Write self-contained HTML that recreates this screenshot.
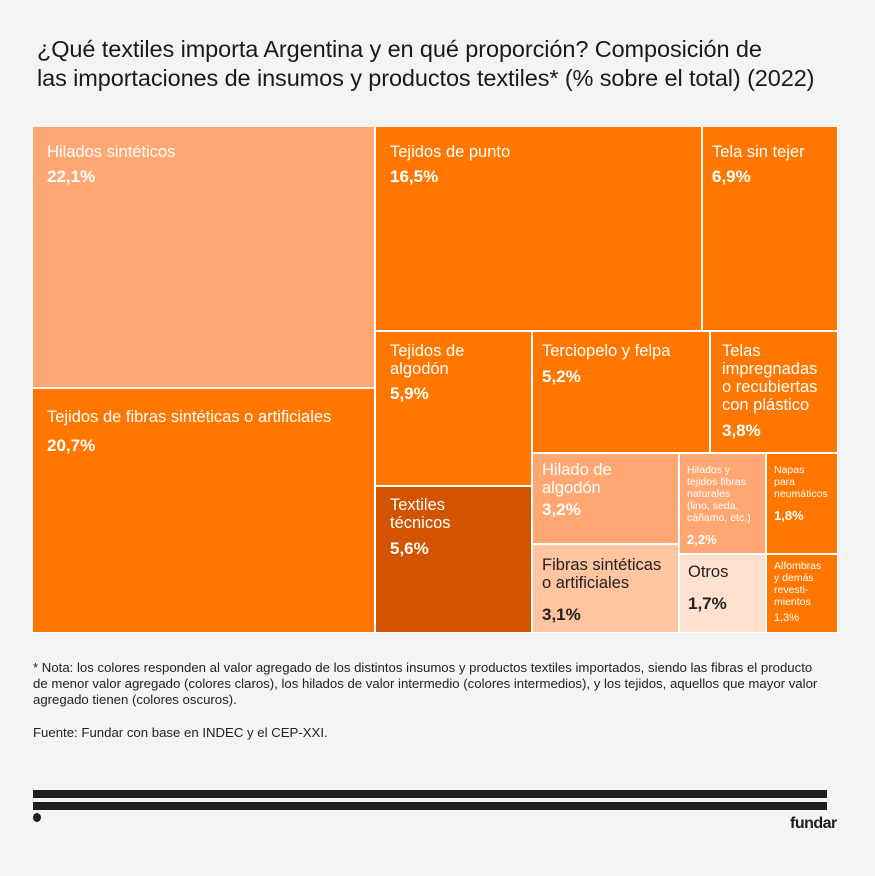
<!DOCTYPE html>
<html><head><meta charset="utf-8"><style>
body{margin:0;width:875px;height:876px;background:#f4f4f4;font-family:"Liberation Sans",sans-serif;position:relative;overflow:hidden}
.t{position:absolute;left:37px;top:35px;font-size:23.5px;line-height:29px;color:#1a1a1a;letter-spacing:-0.1px}
.b{position:absolute;box-sizing:border-box;color:#fff;padding:0;}
.b .l{position:absolute;left:14px;top:16px;font-size:16.5px;line-height:18px}
.b .v{position:absolute;left:14px;font-size:17px;font-weight:bold}
.d{color:#222!important}
.s .l{font-size:10.5px;line-height:12px;left:7px;top:10px}
.s .v{font-size:13px;left:7px}
.n{position:absolute;left:33px;font-size:13.2px;line-height:16px;color:#222}
.bar{position:absolute;left:33px;width:794px;height:8px;background:#1e1e1e}
</style></head><body>
<div class="t">¿Qué textiles importa Argentina y en qué proporción? Composición de<br>las importaciones de insumos y productos textiles* (% sobre el total) (2022)</div>
<div style="position:absolute;left:33px;top:127px;width:805px;height:506px;background:#fff"></div>
<div class="b" style="left:33px;top:127px;width:341px;height:260px;background:#ffa772"><div class="l" style="top:16px">Hilados sintéticos</div><div class="v" style="top:40px">22,1%</div></div>
<div class="b" style="left:33px;top:389px;width:341px;height:243px;background:#ff7700"><div class="l" style="top:19px">Tejidos de fibras sintéticas o artificiales</div><div class="v" style="top:47px">20,7%</div></div>
<div class="b" style="left:376px;top:127px;width:325px;height:203px;background:#ff7700"><div class="l">Tejidos de punto</div><div class="v" style="top:40px">16,5%</div></div>
<div class="b" style="left:703px;top:127px;width:134px;height:203px;background:#ff7700"><div class="l" style="left:9px">Tela sin tejer</div><div class="v" style="left:9px;top:40px">6,9%</div></div>
<div class="b" style="left:376px;top:332px;width:155px;height:153px;background:#ff7700"><div class="l" style="top:10px">Tejidos de<br>algodón</div><div class="v" style="top:52px">5,9%</div></div>
<div class="b" style="left:376px;top:487px;width:155px;height:145px;background:#d35400"><div class="l" style="top:9px">Textiles<br>técnicos</div><div class="v" style="top:52px">5,6%</div></div>
<div class="b" style="left:533px;top:332px;width:176px;height:120px;background:#ff7700"><div class="l" style="left:9px;top:10px">Terciopelo y felpa</div><div class="v" style="left:9px;top:35px">5,2%</div></div>
<div class="b" style="left:711px;top:332px;width:126px;height:120px;background:#ff7700"><div class="l" style="left:11px;top:10px">Telas<br>impregnadas<br>o recubiertas<br>con plástico</div><div class="v" style="left:11px;top:89px">3,8%</div></div>
<div class="b" style="left:533px;top:454px;width:145px;height:89px;background:#ffa772"><div class="l" style="left:9px;top:7px">Hilado de<br>algodón</div><div class="v" style="left:9px;top:46px">3,2%</div></div>
<div class="b d" style="left:533px;top:545px;width:145px;height:87px;background:#ffc4a0"><div class="l" style="left:9px;top:11px">Fibras sintéticas<br>o artificiales</div><div class="v" style="left:9px;top:60px">3,1%</div></div>
<div class="b s" style="left:680px;top:454px;width:85px;height:99px;background:#ffa772"><div class="l">Hilados y<br>tejidos fibras<br>naturales<br>(lino, seda,<br>cáñamo, etc.)</div><div class="v" style="top:78px">2,2%</div></div>
<div class="b d" style="left:680px;top:555px;width:85px;height:77px;background:#ffe1d0"><div class="l" style="left:8px;top:8px">Otros</div><div class="v" style="left:8px;top:39px">1,7%</div></div>
<div class="b s" style="left:767px;top:454px;width:70px;height:99px;background:#ff7700"><div class="l">Napas<br>para<br>neumáticos</div><div class="v" style="top:54px">1,8%</div></div>
<div class="b s" style="left:767px;top:555px;width:70px;height:77px;background:#ff7700"><div class="l" style="top:5px">Alfombras<br>y demás<br>revesti-<br>mientos</div><div class="v" style="top:57px;font-size:11px;font-weight:normal">1,3%</div></div>
<div class="n" style="top:660px">* Nota: los colores responden al valor agregado de los distintos insumos y productos textiles importados, siendo las fibras el producto<br>de menor valor agregado (colores claros), los hilados de valor intermedio (colores intermedios), y los tejidos, aquellos que mayor valor<br>agregado tienen (colores oscuros).</div>
<div class="n" style="top:725px">Fuente: Fundar con base en INDEC y el CEP-XXI.</div>
<div class="bar" style="top:790px"></div>
<div class="bar" style="top:802px"></div>
<div style="position:absolute;left:33px;top:813px;width:8px;height:9px;border-radius:50%;background:#1e1e1e"></div>
<div style="position:absolute;left:790px;top:815px;font-size:16px;font-weight:bold;color:#1e1e1e;letter-spacing:-0.5px">fundar</div>
</body></html>
